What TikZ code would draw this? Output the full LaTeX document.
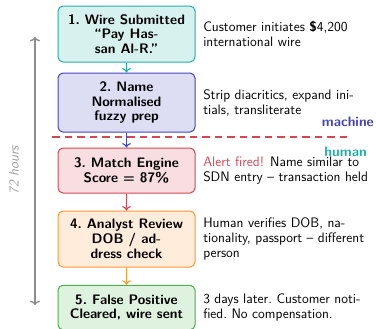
\documentclass[tikz,border=0pt]{standalone}
\usetikzlibrary{arrows.meta}
\renewcommand{\familydefault}{\sfdefault}
\definecolor{cteal}{RGB}{32,176,168}
\definecolor{cblue}{RGB}{68,68,190}
\definecolor{cred}{RGB}{214,70,82}
\definecolor{corange}{RGB}{255,150,50}
\definecolor{cgreen}{RGB}{76,175,80}
\definecolor{cgray}{RGB}{140,140,140}
\begin{document}
\begin{tikzpicture}[x=0.8pt,y=-0.8pt,
  every node/.style={font=\fontsize{11}{12}\selectfont},
  stepbox/.style={draw=#1, fill=#1!18, line width=0.8pt, rounded corners=4pt,
    minimum width=109.6pt, align=center, font=\fontsize{11}{11.8}\selectfont\bfseries, inner sep=3pt},
  desc/.style={anchor=west, align=left, inner sep=0pt},
  flow/.style={draw=#1, line width=0.9pt, -{To[length=3.5pt,width=7pt]}},
  side/.style={font=\fontsize{11}{12}\selectfont\bfseries, inner sep=0pt}]
\useasboundingbox (0,0) rectangle (376,329);
\node[stepbox=cteal, minimum height=44.8pt] (b1) at (126.5,34) {1.\ Wire Submitted\\``Pay Has-\\san Al-R.''};
\node[stepbox=cblue, minimum height=47.2pt] (b2) at (126.5,102.5) {2.\ Name\\Normalised\\fuzzy prep};
\node[stepbox=cred, minimum height=36pt] (b3) at (126.5,170.5) {3.\ Match Engine\\Score = 87\%};
\node[stepbox=corange, minimum height=44.8pt] (b4) at (126.5,239) {4.\ Analyst Review\\DOB / ad-\\dress check};
\node[stepbox=cgreen, minimum height=35.6pt] (b5) at (126.5,307.5) {5.\ False Positive\\Cleared, wire sent};
\draw[flow=cteal] (b1) -- (b2);
\draw[flow=cblue] (b2) -- (b3);
\draw[flow=cred] (b3) -- (b4);
\draw[flow=corange] (b4) -- (b5);
\node[desc] (d1) at (203,34) {Customer initiates \textbf{\$}4,200\\international wire};
\node[desc] (d2) at (203,102.5) {Strip diacritics, expand ini-\\tials, transliterate};
\node[desc] (d3) at (203,170.5) {\textcolor{cred}{Alert fired!} Name similar to\\SDN entry -- transaction held};
\node[desc] (d4) at (203,239) {Human verifies DOB, na-\\tionality, passport -- different\\person};
\node[desc] (d5) at (203,307.5) {3 days later.\ Customer noti-\\fied.\ No compensation.};
\coordinate (l1) at (52,137);
\coordinate (l2) at (347,137);
\draw[cred, line width=1.2pt, dash pattern=on 6pt off 4pt] (l1) -- (l2);
\node[side, text=cblue, anchor=east] (m) at (374,122) {machine};
\node[side, text=cteal, anchor=east] (h) at (367,152) {human};
\coordinate (t1) at (35,37);
\coordinate (t2) at (35,305);
\draw[cgray, line width=1.1pt, {To[length=3.5pt,width=8pt]}-{To[length=3.5pt,width=8pt]}] (t1) -- (t2);
\node[rotate=90, text=cgray!85, font=\fontsize{11}{12}\selectfont\itshape] (hrs) at (14,170) {72 hours};
\end{tikzpicture}
\end{document}
